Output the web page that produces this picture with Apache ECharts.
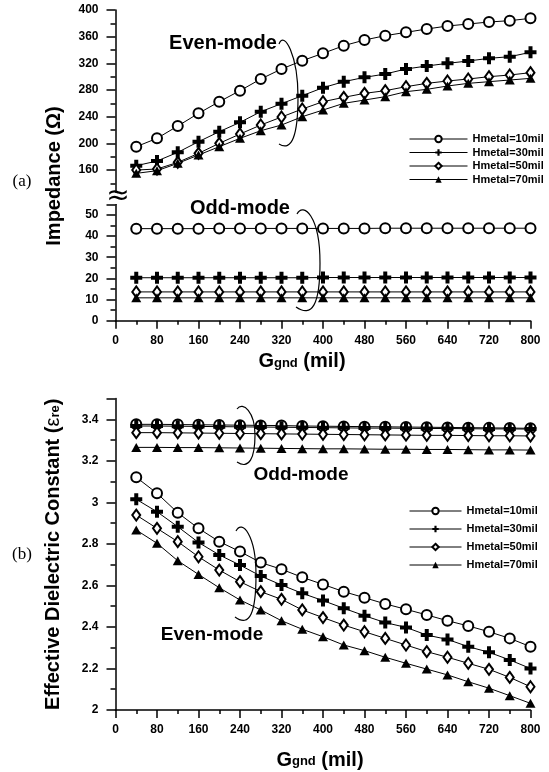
<!DOCTYPE html>
<html>
<head>
<meta charset="utf-8">
<script src="https://cdn.jsdelivr.net/npm/echarts@6/dist/echarts.min.js"></script>
<style>
  html, body { margin: 0; padding: 0; background: #fff; }
  #chart { width: 549px; height: 772px; }
</style>
</head>
<body>
<div id="chart"></div>
<script>
// Ggnd (mil)
var gnd = [40, 80, 120, 160, 200, 240, 280, 320, 360, 400, 440, 480, 520, 560, 600, 640, 680, 720, 760, 800];
var names = ['Hmetal=10mil', 'Hmetal=30mil', 'Hmetal=50mil', 'Hmetal=70mil'];

// (a) impedance, even-mode
var evenZ10 = [195, 207.5, 226, 245, 262.5, 279, 296.5, 311.5, 324, 335, 346.5, 355, 361.5, 366.5, 371.5, 376, 379, 382, 384, 387.5];
var evenZ30 = [166.5, 173.5, 186.5, 202.5, 217.5, 231.5, 247.5, 259.5, 271.5, 283.5, 292.5, 299, 304, 311.5, 316, 320, 323.5, 327.5, 330, 336.5];
var evenZ50 = [160, 161.5, 171.5, 185, 200, 214, 227.5, 239.5, 251.5, 262.5, 269, 275, 279, 285, 290, 293.5, 296.5, 300, 302.5, 306];
var evenZ70 = [155, 159, 170, 182.5, 195, 207.5, 219, 227.5, 240, 250, 260, 265, 270, 277.5, 281, 286, 290, 292.5, 295, 297.5];
// (a) impedance, odd-mode
var oddZ10 = [43.5, 43.5, 43.5, 43.5, 43.6, 43.6, 43.6, 43.6, 43.6, 43.6, 43.6, 43.6, 43.7, 43.7, 43.7, 43.7, 43.7, 43.7, 43.7, 43.7];
var oddZ30 = [20.3, 20.3, 20.3, 20.3, 20.3, 20.3, 20.3, 20.3, 20.3, 20.4, 20.4, 20.4, 20.4, 20.4, 20.4, 20.4, 20.4, 20.4, 20.4, 20.4];
var oddZ50 = [13.6, 13.6, 13.6, 13.6, 13.6, 13.6, 13.6, 13.6, 13.6, 13.6, 13.6, 13.6, 13.6, 13.6, 13.6, 13.6, 13.6, 13.6, 13.6, 13.6];
var oddZ70 = [10.8, 10.8, 10.8, 10.8, 10.8, 10.8, 10.8, 10.8, 10.8, 10.8, 10.8, 10.8, 10.8, 10.8, 10.8, 10.8, 10.8, 10.8, 10.8, 10.8];

// (b) effective dielectric constant, odd-mode
var oddE10 = [3.376, 3.376, 3.375, 3.374, 3.373, 3.372, 3.371, 3.37, 3.368, 3.367, 3.366, 3.365, 3.364, 3.363, 3.362, 3.361, 3.36, 3.359, 3.358, 3.357];
var oddE30 = [3.368, 3.368, 3.367, 3.366, 3.365, 3.364, 3.363, 3.362, 3.361, 3.36, 3.359, 3.358, 3.358, 3.357, 3.356, 3.356, 3.355, 3.354, 3.354, 3.353];
var oddE50 = [3.336, 3.336, 3.335, 3.334, 3.333, 3.332, 3.331, 3.33, 3.329, 3.328, 3.327, 3.326, 3.325, 3.324, 3.323, 3.323, 3.322, 3.321, 3.321, 3.32];
var oddE70 = [3.265, 3.265, 3.264, 3.264, 3.263, 3.262, 3.261, 3.26, 3.259, 3.258, 3.258, 3.257, 3.256, 3.256, 3.255, 3.255, 3.254, 3.253, 3.253, 3.252];
// (b) effective dielectric constant, even-mode
var evenE10 = [3.121, 3.044, 2.95, 2.875, 2.811, 2.763, 2.71, 2.678, 2.639, 2.605, 2.57, 2.541, 2.511, 2.485, 2.458, 2.43, 2.405, 2.377, 2.345, 2.305];
var evenE30 = [3.015, 2.955, 2.883, 2.807, 2.747, 2.698, 2.645, 2.602, 2.562, 2.527, 2.49, 2.454, 2.421, 2.398, 2.361, 2.34, 2.305, 2.278, 2.241, 2.2];
var evenE50 = [2.939, 2.875, 2.811, 2.738, 2.674, 2.618, 2.57, 2.533, 2.482, 2.445, 2.409, 2.377, 2.345, 2.313, 2.281, 2.254, 2.225, 2.196, 2.157, 2.112];
var evenE70 = [2.867, 2.803, 2.719, 2.653, 2.589, 2.53, 2.482, 2.43, 2.389, 2.353, 2.313, 2.286, 2.254, 2.225, 2.197, 2.169, 2.136, 2.105, 2.069, 2.032];

var FONT = 'Liberation Sans, Arial, sans-serif';
var plus = 'path://M4,0H8V4H12V8H8V12H4V8H0V4H4Z';
var symbols = ['emptyCircle', plus, 'emptyDiamond', 'triangle'];
var sizes = [10, 12, [8, 11], [10, 9]];

function pairs(vals) {
    return gnd.map(function (g, i) { return [g, vals[i]]; });
}

function mk(k, vals, idx) {
    return {
        name: names[k],
        type: 'line',
        xAxisIndex: idx,
        yAxisIndex: idx,
        data: pairs(vals),
        symbol: symbols[k],
        symbolSize: sizes[k],
        showAllSymbol: true,
        lineStyle: { color: '#000', width: 1 },
        itemStyle: { color: '#000', borderWidth: 1 },
        emphasis: { disabled: true },
        z: 3
    };
}

function xAx(idx, showIt, nameGap, shift) {
    return {
        gridIndex: idx,
        type: 'value',
        min: 0, max: 800, interval: 80,
        show: showIt,
        splitLine: { show: false },
        axisLine: { lineStyle: { color: '#000', width: 1.5 } },
        axisTick: { length: 8, lineStyle: { color: '#000', width: 1.5 } },
        minorTick: { show: true, splitNumber: 2, length: 4, lineStyle: { color: '#000', width: 1.5 } },
        axisLabel: { color: '#000', fontFamily: FONT, fontWeight: 'bold', fontSize: 12, margin: 14 },
        name: '{a|G}{b|gnd}{a| (mil)}',
        nameLocation: 'middle',
        nameGap: nameGap,
        nameTextStyle: {
            padding: [0, shift, 0, 0],
            rich: {
                a: { fontFamily: FONT, fontWeight: 'bold', fontSize: 20, color: '#000', verticalAlign: 'bottom' },
                b: { fontFamily: FONT, fontWeight: 'bold', fontSize: 13, color: '#000', verticalAlign: 'bottom', padding: [0, 0, 2, 0] }
            }
        }
    };
}

function yAx(idx, mn, mx, step, extra) {
    var ax = {
        gridIndex: idx,
        type: 'value',
        min: mn, max: mx, interval: step,
        splitLine: { show: false },
        axisLine: { show: true, lineStyle: { color: '#000', width: 1.5 } },
        axisTick: { show: true, length: 9, lineStyle: { color: '#000', width: 1.5 } },
        minorTick: { show: true, splitNumber: 2, length: 5, lineStyle: { color: '#000', width: 1.5 } },
        axisLabel: { color: '#000', fontFamily: FONT, fontWeight: 'bold', fontSize: 12, margin: 17 }
    };
    for (var key in extra) { ax[key] = extra[key]; }
    return ax;
}

function bracket(p) {
    // a ")"-shaped hand-drawn loop around a group of curves
    var st = { stroke: '#000', lineWidth: 1.2, fill: null };
    return [
        { type: 'bezierCurve', z: 50, style: st,
          shape: { x1: p[0], y1: p[1], cpx1: p[2], cpy1: p[3], cpx2: p[4], cpy2: p[5], x2: p[6], y2: p[7] } },
        { type: 'bezierCurve', z: 50, style: st,
          shape: { x1: p[6], y1: p[7], cpx1: p[8], cpy1: p[9], cpx2: p[10], cpy2: p[11], x2: p[12], y2: p[13] } }
    ];
}

function label(txt, x, y, size) {
    return { type: 'text', x: x, y: y, z: 50,
        style: { text: txt, fill: '#000', font: 'bold ' + size + 'px ' + FONT, align: 'center', verticalAlign: 'middle' } };
}

var legendStyle = { color: '#000', fontFamily: FONT, fontWeight: 'bold', fontSize: 11, lineHeight: 12 };

var series = [
    mk(0, evenZ10, 0), mk(1, evenZ30, 0), mk(2, evenZ50, 0), mk(3, evenZ70, 0),
    mk(0, oddZ10, 1), mk(1, oddZ30, 1), mk(2, oddZ50, 1), mk(3, oddZ70, 1),
    mk(0, oddE10, 2), mk(1, oddE30, 2), mk(2, oddE50, 2), mk(3, oddE70, 2),
    mk(0, evenE10, 2), mk(1, evenE30, 2), mk(2, evenE50, 2), mk(3, evenE70, 2)
];

var graphics = [
    { type: 'rect', z: 60, shape: { x: 100, y: 193, width: 36, height: 11 }, style: { fill: '#fff' } },
    { type: 'text', x: 118, y: 197, z: 61,
      style: { text: '\u2248', fill: '#000', font: '28px DejaVu Sans', align: 'center', verticalAlign: 'middle' } },
    { type: 'text', x: 54, y: 176, rotation: Math.PI / 2, z: 50,
      style: { text: 'Impedance (\u03A9)', fill: '#000', font: 'bold 20px ' + FONT, align: 'center', verticalAlign: 'middle' } },
    { type: 'text', x: 22, y: 182, z: 50,
      style: { text: '(a)', fill: '#000', font: '17px Liberation Serif, serif', align: 'center', verticalAlign: 'middle' } },
    { type: 'text', x: 22, y: 555, z: 50,
      style: { text: '(b)', fill: '#000', font: '17px Liberation Serif, serif', align: 'center', verticalAlign: 'middle' } },
    label('Even-mode', 223, 43, 20),
    label('Odd-mode', 240, 208, 20),
    label('Odd-mode', 301, 475, 19),
    label('Even-mode', 212, 635, 19)
].concat(
    bracket([279, 44, 284, 30, 298, 55, 298, 97, 298, 135, 292, 152, 279, 144]),
    bracket([297, 214, 303, 202, 320, 215, 320, 263, 320, 305, 312, 318, 296, 307]),
    bracket([237, 409, 243, 401, 255, 412, 255, 435, 255, 458, 249, 470, 237, 462]),
    bracket([236, 531, 242, 519, 256, 535, 256, 575, 256, 612, 250, 628, 235, 617])
);

var option = {
    animation: false,
    backgroundColor: '#fff',
    grid: [
        { left: 115.5, top: 10, width: 415, height: 186.7 },
        { left: 115.5, top: 204.3, width: 415, height: 116.4 },
        { left: 115.5, top: 398.6, width: 415, height: 311.4 }
    ],
    xAxis: [xAx(0, false, 30, 0), xAx(1, true, 31, 42), xAx(2, true, 40, 6)],
    yAxis: [
        yAx(0, 120, 400, 40, { axisLabel: { color: '#000', fontFamily: FONT, fontWeight: 'bold', fontSize: 12, margin: 17, showMinLabel: false } }),
        yAx(1, 0, 55, 10, { axisLabel: { color: '#000', fontFamily: FONT, fontWeight: 'bold', fontSize: 12, margin: 17, showMaxLabel: false } }),
        yAx(2, 2, 3.5, 0.2, {
            axisLabel: { color: '#000', fontFamily: FONT, fontWeight: 'bold', fontSize: 12, margin: 17, showMaxLabel: false },
            name: '{t|Effective Dielectric Constant (}{e|\u03B5}{s|re}{t|)}',
            nameLocation: 'middle',
            nameGap: 52,
            nameTextStyle: {
                rich: {
                    t: { fontFamily: FONT, fontWeight: 'bold', fontSize: 20, color: '#000', verticalAlign: 'bottom' },
                    e: { fontFamily: FONT, fontSize: 20, color: '#000', verticalAlign: 'bottom' },
                    s: { fontFamily: FONT, fontWeight: 'bold', fontSize: 13, color: '#000', verticalAlign: 'bottom', padding: [0, 0, 2, 0] }
                }
            }
        })
    ],
    legend: [
        { data: names, orient: 'vertical', left: 404, top: 128, itemWidth: 58, itemHeight: 8, itemGap: 1.5,
          selectedMode: false, textStyle: legendStyle,
          lineStyle: { width: 1, color: '#000' }, itemStyle: { borderWidth: 1 } },
        { data: names, orient: 'vertical', left: 404, top: 500, itemWidth: 52, itemHeight: 8, itemGap: 6,
          selectedMode: false, textStyle: legendStyle,
          lineStyle: { width: 1, color: '#000' }, itemStyle: { borderWidth: 1 } }
    ],
    graphic: graphics,
    series: series
};

var myChart = echarts.init(document.getElementById('chart'));
myChart.setOption(option, true);
</script>
</body>
</html>
